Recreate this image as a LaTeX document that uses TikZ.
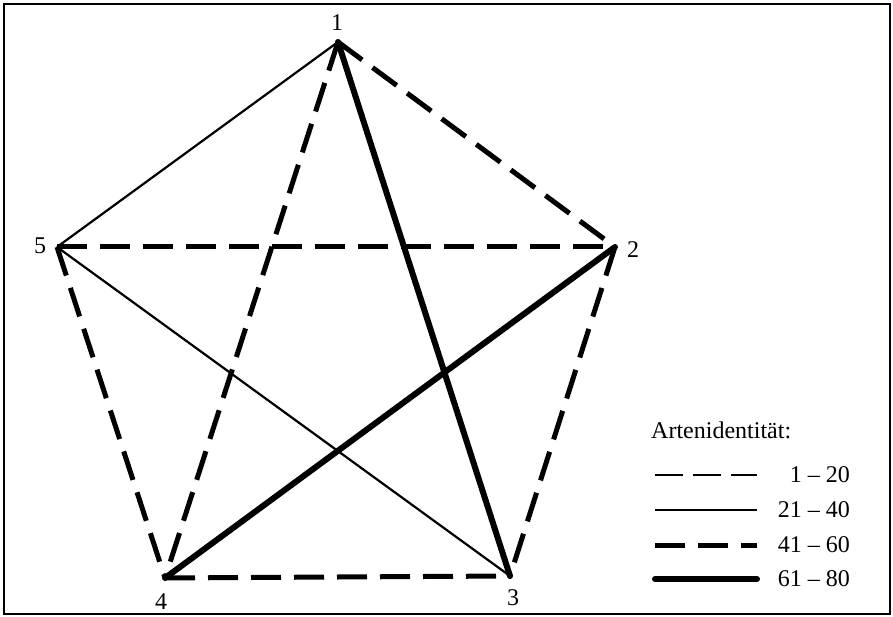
\documentclass[tikz,border=0pt]{standalone}
\usepackage{fontspec}
\setmainfont{Liberation Serif}
\begin{document}
\begin{tikzpicture}[x=1pt,y=-1pt,
    lab/.style={font=\fontsize{24}{28}\selectfont, inner sep=0pt},
    wa/.style={line width=2.2pt, dash pattern=on 28pt off 10pt},
    wb/.style={line width=2.2pt},
    wc/.style={line width=5pt, dash pattern=on 30pt off 13pt},
    wd/.style={line width=6pt, line cap=round}]
  \useasboundingbox (0,0) rectangle (893,617);
  % Rahmen
  \draw[line width=1.5pt] (4,4) rectangle (890,614);

  % Ecken des Fuenfecks
  \coordinate (v1) at (338,42);
  \coordinate (v2) at (615,247);
  \coordinate (v3) at (510,576);
  \coordinate (v4) at (165,578);
  \coordinate (v5) at (57,247);
  \node[lab] (n1) at (337,23) {1};
  \node[lab] (n2) at (633,250) {2};
  \node[lab] (n3) at (513,598) {3};
  \node[lab] (n4) at (161,602) {4};
  \node[lab] (n5) at (40,246) {5};

  % Verbindungen
  \draw[wb] (v1) -- (v5);
  \draw[wb] (v5) -- (v3);
  \draw[wc] (v1) -- (v2);
  \draw[wc] (v1) -- (v4);
  \draw[wc] (v5) -- (v2);
  \draw[wc] (v5) -- (v4);
  \draw[wc] (v2) -- (v3);
  \draw[wc] (v4) -- (v3);
  \draw[wd] (v1) -- (v3);
  \draw[wd] (v2) -- (v4);

  % Legende
  \node[lab, anchor=west] (title) at (651,430) {Artenidentit\"at:};
  \coordinate (a1) at (655,475); \coordinate (b1) at (757,475);
  \coordinate (a2) at (655,510); \coordinate (b2) at (757,510);
  \coordinate (a3) at (655,545); \coordinate (b3) at (757,545);
  \coordinate (a4) at (655,579); \coordinate (b4) at (757,579);
  \draw[wa] (a1) -- (b1);
  \draw[wb] (a2) -- (b2);
  \draw[wc] (a3) -- (b3);
  \draw[wd] (a4) -- (b4);
  \node[lab, anchor=east] (t1) at (850,475) {1 -- 20};
  \node[lab, anchor=east] (t2) at (850,510) {21 -- 40};
  \node[lab, anchor=east] (t3) at (850,545) {41 -- 60};
  \node[lab, anchor=east] (t4) at (850,579) {61 -- 80};
\end{tikzpicture}
\end{document}
